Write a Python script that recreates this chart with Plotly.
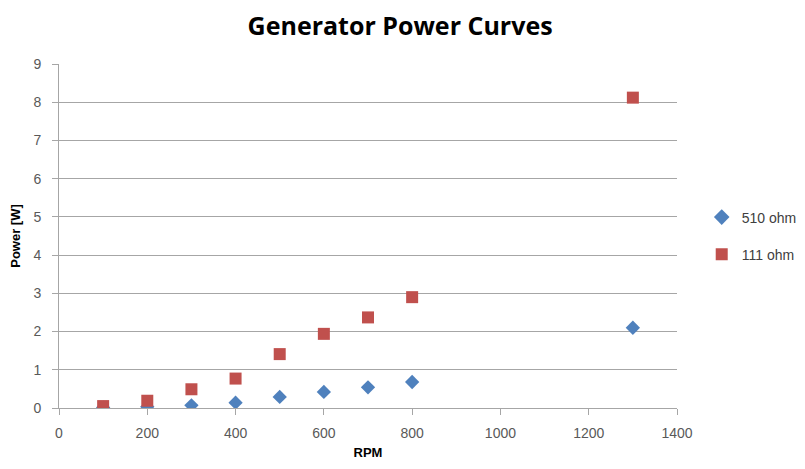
import plotly.graph_objects as go

rpm = [100, 200, 300, 400, 500, 600, 700, 800, 1300]
p510 = [0.01, 0.03, 0.07, 0.14, 0.29, 0.42, 0.54, 0.68, 2.1]
p111 = [0.05, 0.19, 0.49, 0.77, 1.41, 1.94, 2.37, 2.9, 8.12]
xticks = [0, 200, 400, 600, 800, 1000, 1200, 1400]
yticks = [0, 1, 2, 3, 4, 5, 6, 7, 8, 9]

fig = go.Figure()
fig.add_trace(go.Scatter(x=rpm, y=p510, mode="markers", name="510 ohm", legendgroup="a",
                         marker=dict(symbol="diamond", size=11, color="#4F81BD")))
fig.add_trace(go.Scatter(x=rpm, y=p111, mode="markers", name="111 ohm", legendgroup="b",
                         marker=dict(symbol="square", size=12, color="#C0504D")))

fig.update_layout(
    width=797, height=461,
    margin=dict(l=51, r=128, t=56, b=61, autoexpand=False),
    paper_bgcolor="white", plot_bgcolor="white",
    font=dict(family="Liberation Sans, Arial, sans-serif", color="#595959"),
    title=dict(text="<b>Generator Power Curves</b>", x=0.492, xanchor="center", xref="container",
               y=0.96, yanchor="middle", yref="container",
               font=dict(size=25, color="black", family="Open Sans, Liberation Sans, sans-serif")),
    showlegend=True,
    legend=dict(x=1.04, y=0.5, xanchor="left", yanchor="middle", font=dict(size=14, color="#404040"),
                traceorder="grouped", tracegroupgap=16, itemsizing="constant"),
    xaxis=dict(range=[0, 1400], tickvals=xticks, ticks="outside", ticklen=6, tickcolor="#A6A6A6",
               showline=True, linecolor="#A6A6A6", linewidth=1, showgrid=False, zeroline=False,
               ticklabelstandoff=6, automargin=False,
               tickfont=dict(size=14, color="#595959"),
               title=dict(text="<b>RPM</b>", font=dict(size=13, color="black"), standoff=8)),
    yaxis=dict(range=[0, 9], tickvals=yticks, ticks="outside", ticklen=6, tickcolor="#A6A6A6",
               showline=True, linecolor="#A6A6A6", linewidth=1, showgrid=True, gridcolor="#A6A6A6",
               zeroline=False, ticklabelstandoff=8, automargin=False,
               tickfont=dict(size=14, color="#595959"),
               title=dict(text="<b>Power [W]</b>", font=dict(size=13, color="black"), standoff=12)),
)

fig.write_html("out.html")
